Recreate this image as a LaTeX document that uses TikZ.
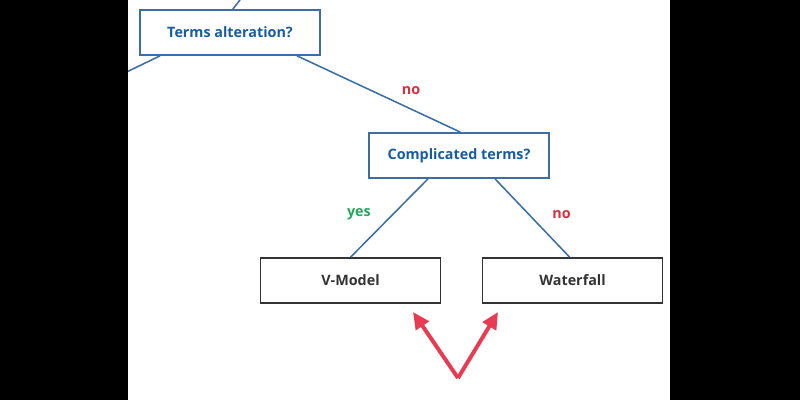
\documentclass[tikz,border=0pt]{standalone}
\usepackage{fontspec}
\setmainfont{Open Sans}
\usetikzlibrary{positioning, arrows.meta}
\definecolor{qblue}{RGB}{24,92,160}
\definecolor{qline}{RGB}{58,110,165}
\definecolor{qred}{RGB}{232,58,80}
\definecolor{qno}{RGB}{214,48,62}
\definecolor{qyes}{RGB}{34,168,92}

\begin{document}
\begin{tikzpicture}[x=0.025cm, y=-0.025cm, >={Triangle[length=4.2mm, width=3.8mm]},
  question/.style={draw=qline, line width=1.2pt, fill=white, minimum width=4.5cm, minimum height=1.125cm, inner sep=0pt, text=qblue, font=\bfseries\fontsize{10.2}{12}\selectfont},
  answer/.style={draw=black!80, line width=1.1pt, fill=white, minimum width=4.5cm, minimum height=1.125cm, inner sep=0pt, text=black!80, font=\bfseries\fontsize{10.2}{12}\selectfont},
  branch/.style={qline, line width=1.1pt},
  lbl/.style={font=\bfseries\fontsize{10.2}{12}\selectfont},
  pointer/.style={->, qred, line width=2.8pt}]
\useasboundingbox (0,0) rectangle (800,400);
% decision nodes
\node[question] (terms) at (230,32.5)  {Terms alteration?};
\node[question] (compl) at (459,155.5) {Complicated terms?};
\node[answer]   (vmod)  at (350.5,280.5) {V-Model};
\node[answer]   (water) at (572.5,280.5) {Waterfall};
% edges leaving the visible frame
\coordinate (up)   at (240,0);
\coordinate (left) at (110,80);
\draw[branch] ([xshift=2pt]terms.north) -- (up);
\draw[branch] ([xshift=-1.75cm]terms.south) -- (left);
\draw[branch] ([xshift=1.675cm]terms.south) -- node[lbl, qno, above right=1pt and 1pt, pos=0.6] {no} ([xshift=1pt]compl.north);
\draw[branch] ([xshift=-0.775cm]compl.south) -- node[lbl, qyes, left=12pt, pos=0.45] {yes} (vmod.north);
\draw[branch] ([xshift=0.9cm]compl.south) -- node[lbl, qno, right=13pt, pos=0.45] {no} ([xshift=-2pt]water.north);
% red pointers
\coordinate (tip) at (458,378);
\coordinate (pv) at (413,312);
\coordinate (pw) at (498,312);
\foreach \t in {pv,pw} \draw[pointer] (tip) -- (\t);
% black side bars
\fill[black] (0,0) rectangle (128,400);
\fill[black] (670,0) rectangle (800,400);
\end{tikzpicture}
\end{document}
